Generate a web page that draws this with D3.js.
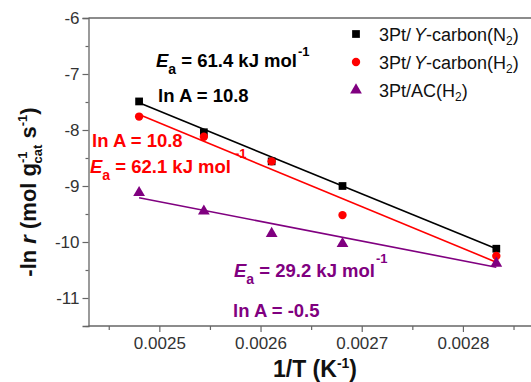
<!DOCTYPE html>
<html>
<head>
<meta charset="utf-8">
<script src="https://cdn.jsdelivr.net/npm/d3@7"></script>
<style>
  body { margin: 0; background: #fff; }
  svg { font-family: Arial, "Liberation Sans", sans-serif; }
</style>
</head>
<body>
<div class="chart"></div>
<script>
// data
var invT = [0.00248, 0.002544, 0.002611, 0.002681, 0.002833];
var lnN2 = [-7.49, -8.04, -8.56, -9.0, -10.12];
var lnH2 = [-7.76, -8.12, -8.56, -9.52, -10.25];
var lnAC = [-9.12, -9.45, -9.85, -10.03, -10.38];
var seriesNames = ["3Pt/Y-carbon(N2)", "3Pt/Y-carbon(H2)", "3Pt/AC(H2)"];
var seriesColors = ["#000000", "#ff0000", "#800080"];
var fitEa = [61.4, 62.1, 29.2];   // kJ/mol
var fitLnA = [10.8, 10.8, -0.5];
var xTicks = [0.0025, 0.0026, 0.0027, 0.0028];
var yTicks = [-11, -10, -9, -8, -7, -6];

var W = 531, H = 382;
var svg = d3.select(".chart").append("svg")
  .attr("width", W).attr("height", H);

var x = d3.scaleLinear().domain([0.00243, 0.00289]).range([88.5, 554]);
var y = d3.scaleLinear().domain([-11.5, -6]).range([326, 18]);

var axisCol = "#666";
var hyph = function (s) { return s.replace("\u2212", "-"); };

// frame top line
svg.append("line")
  .attr("x1", x.range()[0]).attr("x2", W)
  .attr("y1", y(-6)).attr("y2", y(-6))
  .attr("stroke", axisCol).attr("stroke-width", 1.3);

// y axis
var yAx = svg.append("g").attr("transform", "translate(" + x.range()[0] + ",0)")
  .call(d3.axisLeft(y).tickValues(yTicks).tickSize(6).tickPadding(3)
    .tickFormat(function (d) { return hyph(d3.format("d")(d)); }));
var yMinor = svg.append("g").attr("transform", "translate(" + x.range()[0] + ",0)")
  .call(d3.axisLeft(y).tickValues([-11.5, -10.5, -9.5, -8.5, -7.5, -6.5]).tickSize(3).tickFormat(""));

// x axis
var xAx = svg.append("g").attr("transform", "translate(0," + y(-11.5) + ")")
  .call(d3.axisBottom(x).tickValues(xTicks).tickSize(6).tickPadding(5).tickFormat(d3.format(".4f")));
var xMinor = svg.append("g").attr("transform", "translate(0," + y(-11.5) + ")")
  .call(d3.axisBottom(x).tickValues([0.00245, 0.00255, 0.00265, 0.00275, 0.00285]).tickSize(4).tickFormat(""));

[yAx, yMinor, xAx, xMinor].forEach(function (g) {
  g.select(".domain").attr("stroke", axisCol).attr("stroke-width", 1.3);
  g.selectAll(".tick line").attr("stroke", axisCol).attr("stroke-width", 1.2);
  g.selectAll("text").attr("fill", "#333").attr("font-size", "17px")
    .attr("font-family", "Arial, 'Liberation Sans', sans-serif");
});
// run the x domain line to the picture edge
xAx.select(".domain").attr("d", "M" + x.range()[0] + ",0H" + W);
xMinor.select(".domain").remove();
yMinor.select(".domain").remove();

// axis titles
var yt = svg.append("text")
  .attr("transform", "translate(36," + 192 + ") rotate(-90)")
  .attr("text-anchor", "middle")
  .attr("font-size", "22px").attr("font-weight", "bold").attr("fill", "#111");
yt.append("tspan").text("-ln ");
yt.append("tspan").attr("font-style", "italic").text("r");
yt.append("tspan").text(" (mol g");
yt.append("tspan").attr("font-size", "13px").attr("dy", -9).text("-1");
yt.append("tspan").attr("font-size", "13px").attr("dx", -12).attr("dy", 15).text("cat");
yt.append("tspan").attr("dy", -6).text(" s");
yt.append("tspan").attr("font-size", "13px").attr("dy", -9).text("-1");
yt.append("tspan").attr("dy", 9).text(")");

var xt = svg.append("text")
  .attr("x", 315).attr("y", 377)
  .attr("text-anchor", "middle")
  .attr("font-size", "23px").attr("font-weight", "bold").attr("fill", "#111");
xt.append("tspan").text("1/T (K");
xt.append("tspan").attr("font-size", "14px").attr("dy", -9).text("-1");
xt.append("tspan").attr("dy", 9).text(")");

// fit lines from Ea and ln A
var R = 8.314e-3;
var seriesData = [lnN2, lnH2, lnAC];
fitEa.forEach(function (ea, i) {
  var x0 = d3.min(invT), x1 = d3.max(invT);
  var f = function (v) { return fitLnA[i] - ea / R * v; };
  svg.append("line")
    .attr("x1", x(x0)).attr("y1", y(f(x0)))
    .attr("x2", x(x1)).attr("y2", y(f(x1)))
    .attr("stroke", seriesColors[i]).attr("stroke-width", 1.6);
});

// markers
var sym = [d3.symbolSquare, d3.symbolCircle, d3.symbolTriangle];
var symSize = [60, 55, 60];
seriesData.forEach(function (vals, i) {
  svg.selectAll(".pt" + i)
    .data(vals)
    .enter().append("path")
    .attr("class", "pt" + i)
    .attr("d", d3.symbol().type(sym[i]).size(symSize[i]))
    .attr("transform", function (d, j) { return "translate(" + x(invT[j]) + "," + y(d) + ")"; })
    .attr("fill", seriesColors[i]);
});

// legend
var leg = svg.append("g");
seriesNames.forEach(function (name, i) {
  var ly = 34 + i * 28;
  leg.append("path")
    .attr("d", d3.symbol().type(sym[i]).size(symSize[i]))
    .attr("transform", "translate(356," + ly + ")")
    .attr("fill", seriesColors[i]);
  var t = leg.append("text").attr("x", 379).attr("y", ly + 7)
    .attr("font-size", "18px").attr("fill", "#111");
  var m = name.match(/^(3Pt\/)(Y)?(.*)\((\w)(2)\)$/);
  t.append("tspan").text(m[1]);
  if (m[2]) {
    t.append("tspan").attr("font-style", "italic").attr("dx", 3).text(m[2]);
    t.append("tspan").text(m[3] + "(" + m[4]);
  } else {
    t.append("tspan").text(m[3] + "(" + m[4]);
  }
  t.append("tspan").attr("font-size", "12px").attr("dy", 4).text(m[5]);
  t.append("tspan").attr("dy", -4).text(")");
});

// annotations
function eaLabel(xp, yp, val, col, supDx, supDy) {
  var t = svg.append("text").attr("x", xp).attr("y", yp)
    .attr("font-size", "18.5px").attr("font-weight", "bold").attr("fill", col);
  t.append("tspan").attr("font-style", "italic").text("E");
  t.append("tspan").attr("font-size", "14px").attr("dy", 7).text("a");
  t.append("tspan").attr("dy", -7).text(" = " + val + " kJ mol");
  t.append("tspan").attr("font-size", "13px").attr("dx", supDx).attr("dy", supDy).text("-1");
}
function lnALabel(xp, yp, val, col) {
  svg.append("text").attr("x", xp).attr("y", yp)
    .attr("font-size", "18.5px").attr("font-weight", "bold").attr("fill", col)
    .text("ln A = " + val);
}
eaLabel(156, 67, fitEa[0].toFixed(1), seriesColors[0], 1, -11);
lnALabel(158, 102, fitLnA[0].toFixed(1), seriesColors[0]);
lnALabel(92, 147, fitLnA[1].toFixed(1), seriesColors[1]);
eaLabel(90, 173, fitEa[1].toFixed(1), seriesColors[1], 4, -15);
eaLabel(234, 277, fitEa[2].toFixed(1), seriesColors[2], 1, -14);
lnALabel(233, 317, fitLnA[2].toFixed(1), seriesColors[2]);
</script>
</body>
</html>
